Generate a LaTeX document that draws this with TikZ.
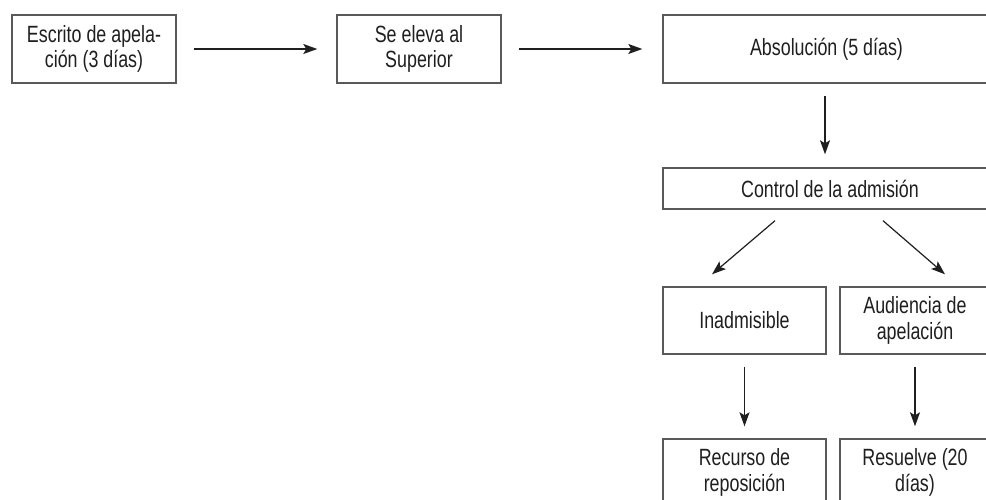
\documentclass[tikz,border=0pt]{standalone}
\usepackage{fontspec}
\setmainfont{Liberation Sans}[FakeStretch=0.76]
\usetikzlibrary{arrows.meta,calc}
\begin{document}
\begin{tikzpicture}[x=1pt,y=-1pt,
  box/.style={draw=black!65, line width=1.4pt, rectangle, inner sep=0pt, align=center,
    text=black!88, font=\fontsize{23.5}{25.5}\selectfont},
  arr/.style={draw=black!88, line width=1.2pt, -{Stealth[length=14pt,width=10pt,inset=3pt]}}]
\useasboundingbox (0,0) rectangle (986,500);
\clip (0,0) rectangle (986,500);
\fill[white] (0,0) rectangle (986,500);
\node[box, minimum width=164pt, minimum height=68pt] (b1) at (94,49) {Escrito de apela-\\ción (3 días)};
\node[box, minimum width=164pt, minimum height=68pt] (b2) at (419,49) {Se eleva al\\Superior};
\node[box, minimum width=327pt, minimum height=68pt] (b3) at (826.5,49) {Absolución (5 días)};
\node[box, minimum width=334pt, minimum height=41pt] (b4) at (830,188.5) {Control de la admisión};
\node[box, minimum width=163pt, minimum height=67pt] (b5) at (744.5,320.5) {Inadmisible};
\node[box, minimum width=150pt, minimum height=67pt] (b6) at (915,320.5) {Audiencia de\\apelación};
\node[box, minimum width=163pt, minimum height=67pt] (b7) at (744.5,472.5) {Recurso de\\reposición};
\node[box, minimum width=150pt, minimum height=67pt] (b8) at (915,472.5) {Resuelve (20\\días)};
\draw[arr, shorten <=17pt, shorten >=19pt] (b1.east) -- (b2.west);
\draw[arr, shorten <=17pt, shorten >=20pt] (b2.east) -- (b3.west);
\draw[arr] ($(b3.south -| 825,0)+(0,12)$) -- ($(b4.north -| 825,0)+(0,-13)$);
\draw[arr] ($(b4.south)+(-55,11)$) -- ($(b5.north)+(-32.5,-12)$);
\draw[arr] ($(b4.south)+(53,11)$) -- ($(b6.north)+(30,-12)$);
\draw[arr, shorten <=12pt, shorten >=12pt] (b5.south) -- (b7.north);
\draw[arr, shorten <=12pt, shorten >=12pt] (b6.south) -- (b8.north);
\end{tikzpicture}
\end{document}
